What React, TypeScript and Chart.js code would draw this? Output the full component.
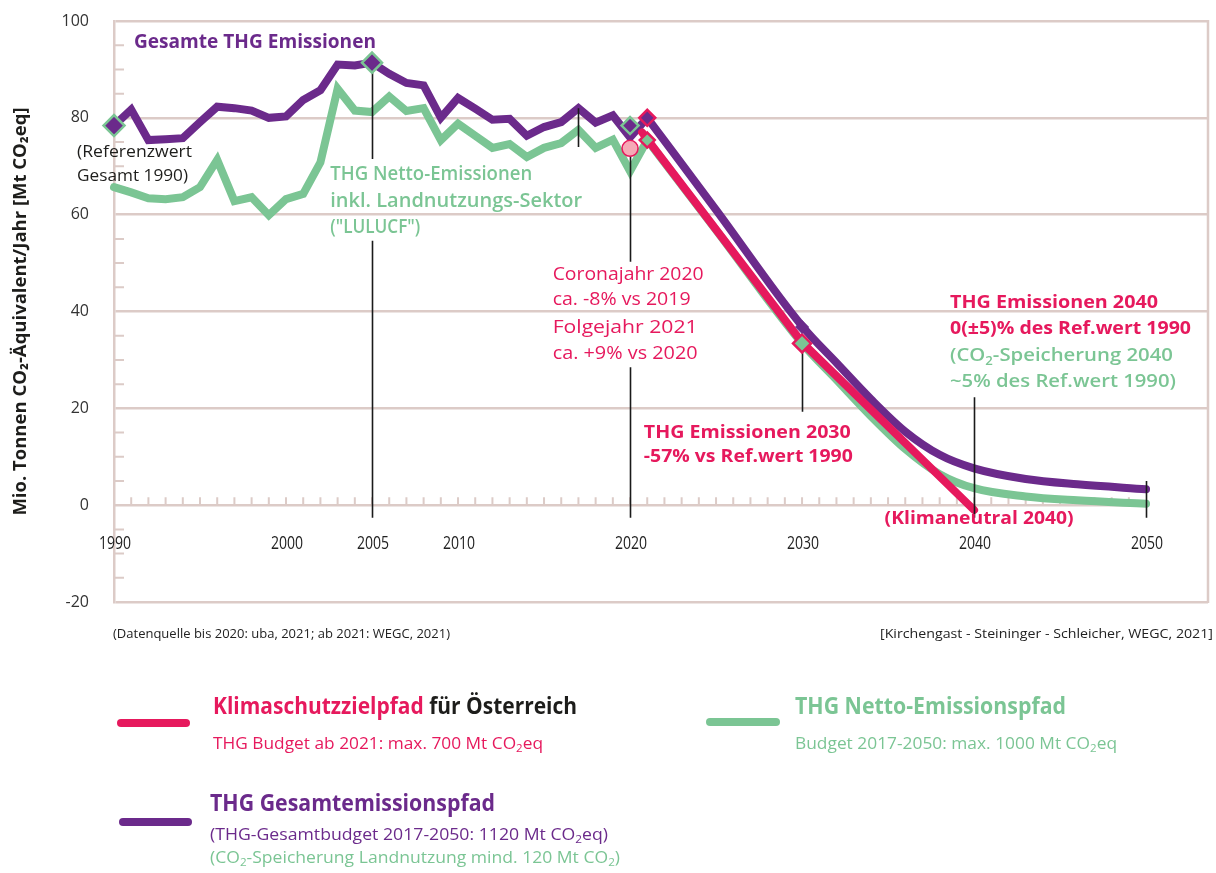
import React, { useEffect, useRef } from 'react';
import { Chart, registerables } from 'chart.js';

Chart.register(...registerables);

const PURPLE = '#6b2a8b';
const GREEN = '#7bc594';
const PINK = '#e6195d';
const CORONA_FILL = '#f6a9b6';
const GRID = '#dccbc7';
const INK = '#1d1d1b';
const FONT = "'Open Sans', 'Noto Sans', 'DejaVu Sans', sans-serif";

// ---- data (Mt CO2eq) ----
const histYears = [1990, 1991, 1992, 1993, 1994, 1995, 1996, 1997, 1998, 1999, 2000, 2001, 2002, 2003, 2004, 2005, 2006, 2007, 2008, 2009, 2010, 2011, 2012, 2013, 2014, 2015, 2016, 2017, 2018, 2019, 2020, 2021];
const grossHist = [78.4, 81.7, 75.4, 75.6, 75.8, 79.1, 82.3, 82.0, 81.5, 80.0, 80.3, 83.7, 85.7, 91.0, 90.8, 91.4, 89.1, 87.2, 86.7, 80.0, 84.1, 81.9, 79.6, 79.8, 76.3, 78.1, 79.1, 82.0, 79.0, 80.5, 76.0, 80.0];
const netHist = [65.7, 64.6, 63.4, 63.2, 63.6, 65.7, 71.3, 62.8, 63.6, 59.9, 63.2, 64.3, 70.8, 86.0, 81.5, 81.2, 84.4, 81.4, 82.0, 75.4, 78.8, 76.3, 73.8, 74.6, 71.9, 73.8, 74.8, 77.5, 73.8, 75.5, 69.0, 75.4];

const projYears = [2021, 2025, 2030, 2032, 2034, 2036, 2038, 2040, 2043, 2046, 2050];
const grossProj = [80.0, 61.0, 37.0, 29.4, 21.9, 15.2, 10.4, 7.6, 5.4, 4.3, 3.3];
const netProj = [75.4, 56.8, 33.4, 25.9, 18.4, 11.6, 6.4, 3.5, 1.8, 1.0, 0.3];

const targetYears = [2020.7, 2030, 2040];
const targetValues = [77.0, 33.6, -1.0];

const refMarkYears = [1990, 2005, 2020];
const refMarkValues = [78.4, 91.4, 78.4];
const grossMarkYears = [2021];
const grossMarkValues = [80.0];
const gross2030Years = [2030];
const gross2030Values = [36.8];
const netMarkYears = [2021, 2030];
const netMarkValues = [75.4, 33.4];
const coronaYears = [2020];
const coronaValues = [73.7];

const guideYears = [2005, 2005, 2017, 2020, 2020, 2030, 2040, 2050];
const guideFrom = [91.4, 54.6, 82.0, 73.7, 28.5, 33.4, 22.3, 5.0];
const guideTo = [71.5, -2.6, 74.0, 50.3, -2.6, 19.3, -2.6, -2.6];

const xLabelYears = [1990, 2000, 2005, 2010, 2020, 2030, 2040, 2050];
const yearRange = { first: 1990, last: 2050 };
const yTicks = { min: -20, max: 100, step: 20, minorStep: 5 };

const pts = (xs: number[], ys: number[]) => xs.map((x, i) => ({ x, y: ys[i] }));

type Seg = { t: string; c: string; sub?: boolean };
function rich(text: string, c: string): Seg[] {
  const out: Seg[] = [];
  const parts = text.split('₂');
  parts.forEach((p, i) => {
    if (p) out.push({ t: p, c });
    if (i < parts.length - 1) out.push({ t: '2', c, sub: true });
  });
  return out;
}

function drawRich(ctx: CanvasRenderingContext2D, segs: Seg[], x: number, y: number, size: number, weight: number | string, width?: number, align: 'left' | 'right' = 'left') {
  const base = `${weight} ${size}px ${FONT}`;
  const subF = `${weight} ${Math.round(size * 0.66)}px ${FONT}`;
  let total = 0;
  const ws = segs.map((s) => {
    ctx.font = s.sub ? subF : base;
    const w = ctx.measureText(s.t).width;
    total += w;
    return w;
  });
  const sc = width ? width / total : 1;
  ctx.save();
  ctx.translate(align === 'right' ? x - total * sc : x, y);
  ctx.scale(sc, 1);
  ctx.textBaseline = 'middle';
  ctx.textAlign = 'left';
  let cx = 0;
  segs.forEach((s, i) => {
    ctx.font = s.sub ? subF : base;
    ctx.fillStyle = s.c;
    ctx.fillText(s.t, cx, s.sub ? size * 0.32 : 0);
    cx += ws[i];
  });
  ctx.restore();
}

const notes = [
  { yr: 1991.16, v: 95.5, t: 'Gesamte THG Emissionen', c: PURPLE, w: 700, s: 19, width: 242 },
  { yr: 1987.85, v: 72.8, t: '(Referenzwert', c: INK, w: 400, s: 16.5, width: 115 },
  { yr: 1987.85, v: 68.0, t: 'Gesamt 1990)', c: INK, w: 400, s: 16.5, width: 111 },
  { yr: 2002.57, v: 68.2, t: 'THG Netto-Emissionen', c: GREEN, w: 600, s: 19, width: 202 },
  { yr: 2002.57, v: 62.7, t: 'inkl. Landnutzungs-Sektor', c: GREEN, w: 600, s: 19, width: 252 },
  { yr: 2002.57, v: 57.3, t: '("LULUCF")', c: GREEN, w: 600, s: 19, width: 90 },
  { yr: 2015.5, v: 47.6, t: 'Coronajahr 2020', c: PINK, w: 400, s: 18, width: 151 },
  { yr: 2015.5, v: 42.3, t: 'ca. -8% vs 2019', c: PINK, w: 400, s: 18, width: 138 },
  { yr: 2015.5, v: 36.7, t: 'Folgejahr 2021', c: PINK, w: 400, s: 18, width: 145 },
  { yr: 2015.5, v: 31.3, t: 'ca. +9% vs 2020', c: PINK, w: 400, s: 18, width: 145 },
  { yr: 2020.8, v: 15.05, t: 'THG Emissionen 2030', c: PINK, w: 700, s: 18.5, width: 207 },
  { yr: 2020.8, v: 9.9, t: '-57% vs Ref.wert 1990', c: PINK, w: 700, s: 18.5, width: 209 },
  { yr: 2038.6, v: 41.9, t: 'THG Emissionen 2040', c: PINK, w: 700, s: 18.5, width: 208 },
  { yr: 2038.6, v: 36.5, t: '0(±5)% des Ref.wert 1990', c: PINK, w: 700, s: 18.5, width: 241 },
  { yr: 2038.6, v: 30.9, t: '(CO₂-Speicherung 2040', c: GREEN, w: 600, s: 18.5, width: 223 },
  { yr: 2038.6, v: 25.4, t: '~5% des Ref.wert 1990)', c: GREEN, w: 600, s: 18.5, width: 226 },
  { yr: 2034.8, v: -2.9, t: '(Klimaneutral 2040)', c: PINK, w: 700, s: 18.5, width: 189 },
];

const PINK_INDEX = 4;

const decorPlugin = {
  id: 'decor',
  beforeDatasetsDraw(chart: any) {
    const { ctx, chartArea: a, scales } = chart;
    const x = scales.x;
    const y = scales.y;
    ctx.save();
    ctx.strokeStyle = GRID;
    ctx.lineWidth = 2.5;
    ctx.beginPath();
    ctx.moveTo(a.right, a.top - 1);
    ctx.lineTo(a.right, a.bottom + 1);
    const y0 = y.getPixelForValue(0);
    ctx.moveTo(x.getPixelForValue(yearRange.first), y0);
    ctx.lineTo(x.getPixelForValue(yearRange.last), y0);
    ctx.stroke();
    ctx.lineWidth = 2;
    ctx.beginPath();
    for (let v = yTicks.min; v <= yTicks.max; v += yTicks.minorStep) {
      if (v % yTicks.step === 0) continue;
      const py = y.getPixelForValue(v);
      ctx.moveTo(a.left, py);
      ctx.lineTo(a.left + 10, py);
    }
    for (let yr = yearRange.first + 1; yr < yearRange.last; yr++) {
      const px = x.getPixelForValue(yr);
      ctx.moveTo(px, y0);
      ctx.lineTo(px, y0 - 8);
    }
    ctx.stroke();
    // x tick labels (placed below zero line)
    ctx.fillStyle = '#222';
    ctx.font = `400 18px ${FONT}`;
    ctx.textAlign = 'center';
    ctx.textBaseline = 'middle';
    xLabelYears.forEach((yr) => {
      const px = x.getPixelForValue(yr);
      ctx.save();
      ctx.translate(px + 1, y0 + 39);
      ctx.scale(0.78, 1);
      ctx.fillText(String(yr), 0, 0);
      ctx.restore();
    });
    ctx.restore();
  },
  afterDatasetDraw(chart: any, args: any) {
    if (args.index !== PINK_INDEX) return;
    const { ctx, scales } = chart;
    const x = scales.x;
    const y = scales.y;
    ctx.save();
    ctx.strokeStyle = '#1a1a1a';
    ctx.lineWidth = 1.6;
    ctx.beginPath();
    guideYears.forEach((yr, i) => {
      const px = Math.round(x.getPixelForValue(yr)) + 0.5;
      ctx.moveTo(px, y.getPixelForValue(guideFrom[i]));
      ctx.lineTo(px, y.getPixelForValue(guideTo[i]));
    });
    ctx.stroke();
    ctx.restore();
  },
  afterDraw(chart: any) {
    const { ctx, scales } = chart;
    const x = scales.x;
    const y = scales.y;
    notes.forEach((n) => {
      drawRich(ctx, rich(n.t, n.c), x.getPixelForValue(n.yr), y.getPixelForValue(n.v), n.s, n.w, n.width);
    });
    // footnotes
    drawRich(ctx, rich('(Datenquelle bis 2020: uba, 2021; ab 2021: WEGC, 2021)', '#222'), 113, 634, 12.5, 400, 337);
    drawRich(ctx, rich('[Kirchengast - Steininger - Schleicher, WEGC, 2021]', '#222'), 1213, 634, 12.5, 400, 333, 'right');
    // legend
    ctx.save();
    ctx.lineCap = 'round';
    ctx.lineWidth = 8;
    const seg = (c: string, x1: number, x2: number, yy: number) => {
      ctx.strokeStyle = c;
      ctx.beginPath();
      ctx.moveTo(x1, yy);
      ctx.lineTo(x2, yy);
      ctx.stroke();
    };
    seg(PINK, 121, 186, 723);
    seg(GREEN, 710, 776, 722);
    seg(PURPLE, 123, 188, 822);
    ctx.restore();
    drawRich(ctx, [...rich('Klimaschutzzielpfad', PINK), ...rich(' für Österreich', INK)], 213, 708, 22.5, 700, 364);
    drawRich(ctx, rich('THG Budget ab 2021: max. 700 Mt CO₂eq', PINK), 213, 744, 16.5, 400, 330);
    drawRich(ctx, rich('THG Netto-Emissionspfad', GREEN), 795, 708, 22.5, 700, 271);
    drawRich(ctx, rich('Budget 2017-2050: max. 1000 Mt CO₂eq', GREEN), 795, 744, 16.5, 400, 322);
    drawRich(ctx, rich('THG Gesamtemissionspfad', PURPLE), 210, 805, 22.5, 700, 285);
    drawRich(ctx, rich('(THG-Gesamtbudget 2017-2050: 1120 Mt CO₂eq)', PURPLE), 210, 835, 16.5, 400, 398);
    drawRich(ctx, rich('(CO₂-Speicherung Landnutzung mind. 120 Mt CO₂)', GREEN), 210, 858, 16.5, 400, 410);
  },
};

export default function App() {
  const ref = useRef<HTMLCanvasElement | null>(null);
  useEffect(() => {
    if (!ref.current) return;
    const lineBase = { pointRadius: 0, borderWidth: 8, borderCapStyle: 'round', borderJoinStyle: 'miter', clip: false, fill: false };
    const chart = new Chart(ref.current, {
      type: 'line',
      data: {
        datasets: [
          { ...lineBase, data: pts(histYears, netHist), borderColor: GREEN, tension: 0, order: 5 },
          { ...lineBase, data: pts(histYears, grossHist), borderColor: PURPLE, tension: 0, order: 4 },
          { ...lineBase, data: pts(projYears, netProj), borderColor: GREEN, cubicInterpolationMode: 'monotone', order: 3 },
          { ...lineBase, data: pts(projYears, grossProj), borderColor: PURPLE, cubicInterpolationMode: 'monotone', order: 2 },
          { ...lineBase, data: pts(targetYears, targetValues), borderColor: PINK, tension: 0, order: 1 },
          { data: pts(gross2030Years, gross2030Values), showLine: false, pointStyle: 'rectRot', pointRadius: 6.5, pointBackgroundColor: PURPLE, pointBorderColor: PURPLE, pointBorderWidth: 1, clip: false, order: 0 },
          { data: pts(refMarkYears, refMarkValues), showLine: false, pointStyle: 'rectRot', pointRadius: [10.5, 10, 8.5], pointBackgroundColor: PURPLE, pointBorderColor: GREEN, pointBorderWidth: 2.5, clip: false, order: 0 },
          { data: pts(grossMarkYears, grossMarkValues), showLine: false, pointStyle: 'rectRot', pointRadius: 8, pointBackgroundColor: PURPLE, pointBorderColor: PINK, pointBorderWidth: 2.5, clip: false, order: 0 },
          { data: pts(netMarkYears, netMarkValues), showLine: false, pointStyle: 'rectRot', pointRadius: [7.5, 9], pointBackgroundColor: GREEN, pointBorderColor: PINK, pointBorderWidth: 2.5, clip: false, order: 0 },
          { data: pts(coronaYears, coronaValues), showLine: false, pointStyle: 'circle', pointRadius: 8, pointBackgroundColor: CORONA_FILL, pointBorderColor: PINK, pointBorderWidth: 1.5, clip: false, order: 0 },
        ] as any,
      },
      options: {
        animation: false,
        responsive: false,
        devicePixelRatio: 1,
        layout: { autoPadding: false, padding: { left: 0, right: 8, top: 21, bottom: 271 } },
        plugins: { legend: { display: false }, tooltip: { enabled: false } },
        scales: {
          x: {
            type: 'linear', min: 1990, max: 2053.6, display: false,
            afterFit: (s: any) => { s.paddingLeft = 0; s.paddingRight = 0; s.paddingTop = 0; s.paddingBottom = 0; },
          },
          y: {
            type: 'linear',
            min: yTicks.min,
            max: yTicks.max,
            afterFit: (s: any) => { s.width = 114; s.paddingTop = 0; s.paddingBottom = 0; s.paddingLeft = 0; s.paddingRight = 0; },
            ticks: { stepSize: yTicks.step, padding: 25, color: '#333', font: { family: FONT, size: 16 } },
            grid: {
              color: (c: any) => (c.tick && c.tick.value === 0 ? 'rgba(0,0,0,0)' : GRID),
              lineWidth: 2.5,
              drawTicks: false,
            },
            border: { color: GRID, width: 2.5 },
            title: {
              display: true,
              text: 'Mio. Tonnen CO₂-Äquivalent/Jahr [Mt CO₂eq]',
              color: INK,
              font: { family: FONT, size: 18.5, weight: 'bold' },
              padding: { top: 10, bottom: 0 },
            },
          },
        },
      } as any,
      plugins: [decorPlugin as any],
    });
    return () => chart.destroy();
  }, []);
  return (
    <div style={{ position: 'absolute', left: 0, top: 0, width: 1216, height: 873, background: '#fff' }}>
      <canvas ref={ref} width={1216} height={873} style={{ display: 'block' }} />
    </div>
  );
}
